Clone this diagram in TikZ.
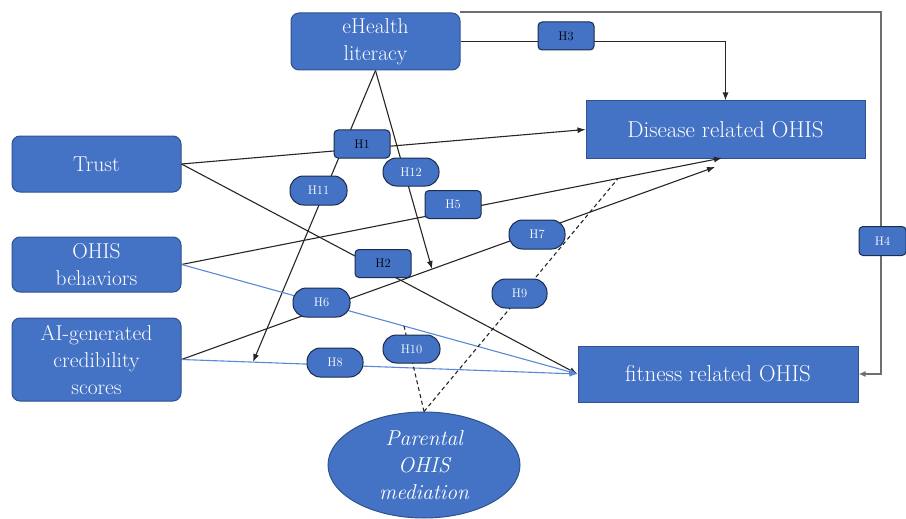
\documentclass[tikz,border=0pt]{standalone}
\usetikzlibrary{arrows.meta,shapes.geometric}
\definecolor{boxfill}{HTML}{4472C4}
\definecolor{boxline}{HTML}{2F528F}
\definecolor{lbline}{HTML}{1C2C4C}
\definecolor{bluel}{HTML}{5A88D6}
\definecolor{conn}{HTML}{262626}
\definecolor{grayl}{HTML}{6E6E6E}
\begin{document}
\begin{tikzpicture}[x=1pt,y=-1pt,
  var/.style={draw=boxline,fill=boxfill,line width=1pt,text=white,rounded corners=8pt,
     minimum width=169pt,inner sep=0pt,align=center,
     font=\fontsize{21.5}{27}\selectfont},
  outc/.style={draw=boxline,fill=boxfill,line width=1pt,text=white,
     minimum width=279pt,minimum height=57pt,inner sep=0pt,align=center,
     font=\fontsize{23}{27}\selectfont},
  hrect/.style={draw=lbline,fill=boxfill,line width=1pt,rounded corners=4pt,
     minimum width=56pt,minimum height=28pt,inner sep=0pt,
     font=\fontsize{12.5}{14}\selectfont},
  hpill/.style={draw=lbline,fill=boxfill,line width=1pt,rounded corners=13.5pt,
     minimum width=56pt,minimum height=28pt,inner sep=0pt,text=white,
     font=\fontsize{12.5}{14}\selectfont},
  arr/.style={draw=conn,line width=1.1pt,-{Latex[length=8pt,width=6pt]}},
  barr/.style={draw=bluel,line width=1.1pt,-{Latex[length=8pt,width=6pt]}},
  dsh/.style={draw=conn,line width=1.1pt,dash pattern=on 4pt off 3pt}
]
\useasboundingbox (0,0) rectangle (906,519);
% variables
\node[var,minimum height=57pt] (eh) at (375.5,41.5) {eHealth\\literacy};
\node[var,minimum height=56pt] (trust) at (96.5,164) {Trust};
\node[var,minimum height=55pt] (ohis) at (96.5,264.5) {OHIS\\behaviors};
\node[var,minimum height=83pt] (ai) at (96.5,359.5) {AI-generated\\credibility\\scores};
\node[outc] (dis) at (725.5,129.5) {Disease related OHIS};
\node[outc,minimum width=280pt,minimum height=56pt] (fit) at (718,374) {fitness related OHIS};
\node[ellipse,draw=boxline,fill=boxfill,line width=1pt,text=white,minimum width=192pt,
  minimum height=106pt,inner sep=0pt,align=center,
  font=\fontsize{21.5}{27}\selectfont\itshape] (par) at (424,465) {Parental\\OHIS\\mediation};
% coordinates
\coordinate (top1) at (460,12);
\coordinate (top2) at (881,12);
\coordinate (disb1) at (722,158);
\coordinate (disb2) at (715,167);
\coordinate (m1) at (253,362);
\coordinate (m2) at (432,269);
\coordinate (m3) at (404,326);
\coordinate (m4) at (618,178.5);
% connectors
\draw[draw=grayl,line width=1.6pt,-{Latex[length=7pt,width=6pt]}] (top1) -- (top2) |- (fit.east);
\draw[arr] (eh.east) -- (eh.east -| dis.north) -- (dis.north);
\draw[arr] (trust.east) -- (dis.west);
\draw[arr] (trust.east) -- (fit.west);
\draw[arr] (eh.south) -- (m1);
\draw[arr] (eh.south) -- (m2);
\draw[arr] (ohis.east) -- (disb1);
\draw[barr] (ohis.east) -- (fit.west);
\draw[arr] (ai.east) -- (disb2);
\draw[barr] (ai.east) -- (fit.west);
\draw[dsh] (par.north) -- (m3);
\draw[dsh] (par.north) -- (m4);
% hypothesis labels
\node[hrect] (h1) at (362,144) {H1};
\node[hrect] (h2) at (383,263.5) {H2};
\node[hrect] (h3) at (566,36) {H3};
\node[hrect,text=white,minimum width=47pt,minimum height=29pt] (h4) at (882.5,241) {H4};
\node[hrect,text=white] (h5) at (453,204.5) {H5};
\node[hpill,minimum width=57pt,minimum height=29pt] (h6) at (321.5,302.5) {H6};
\node[hpill,minimum height=29pt] (h7) at (537,234.5) {H7};
\node[hpill,minimum height=29pt] (h8) at (335,362.5) {H8};
\node[hpill,minimum width=55pt,minimum height=29pt] (h9) at (519.5,293.5) {H9};
\node[hpill,minimum width=57pt] (h10) at (411.5,349) {H10};
\node[hpill,minimum width=57pt,minimum height=29pt] (h11) at (318.5,190.5) {H11};
\node[hpill] (h12) at (411,172) {H12};
\end{tikzpicture}
\end{document}
